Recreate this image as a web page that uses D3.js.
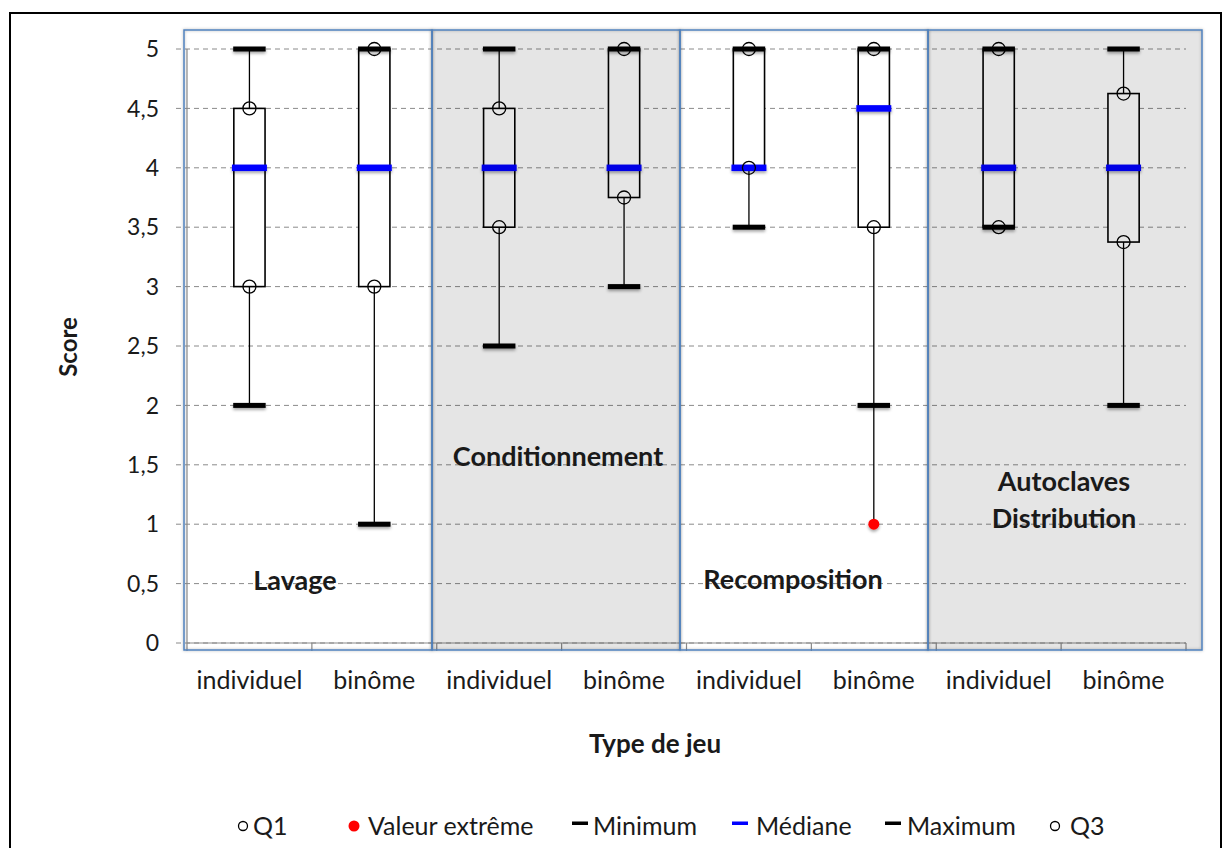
<!DOCTYPE html>
<html><head><meta charset="utf-8">
<script src="https://cdn.jsdelivr.net/npm/d3@7"></script>
<style>
html,body{margin:0;padding:0;background:#fff;}
svg{display:block;}
text{font-family:Lato,"Open Sans",sans-serif;fill:#1a1a1a;}
</style></head>
<body>
<svg id="chart" width="1227" height="848"></svg>
<script>
// ---------- data ----------
const categories = ["individuel","binôme","individuel","binôme","individuel","binôme","individuel","binôme"];
const groupNames = ["Lavage","Conditionnement","Recomposition","Autoclaves\nDistribution"];
const minValues     = [2, 1, 2.5, 3, 3.5, 2, 3.5, 2];
const q1Values      = [3, 3, 3.5, 3.75, 4, 3.5, 3.5, 3.375];
const medianValues  = [4, 4, 4, 4, 4, 4.5, 4, 4];
const q3Values      = [4.5, 5, 4.5, 5, 5, 5, 5, 4.625];
const maxValues     = [5, 5, 5, 5, 5, 5, 5, 5];
const extremeValues = [null, null, null, null, null, 1, null, null];
const yTicks = [0, 0.5, 1, 1.5, 2, 2.5, 3, 3.5, 4, 4.5, 5];
const legendItems = ["Q1","Valeur extrême","Minimum","Médiane","Maximum","Q3"];

// ---------- layout ----------
const svg = d3.select("#chart");
const x = d3.scaleBand().domain(d3.range(categories.length)).range([187, 1186]).padding(0);
const y = d3.scaleLinear().domain([0, 5]).range([643, 49]);
const fmt = v => String(v).replace(".", ",");
const bw = x.bandwidth();
const cx = i => x(i) + bw / 2;

const defs = svg.append("defs");
const sh = defs.append("filter").attr("id","shadow").attr("x","-30%").attr("y","-50%").attr("width","160%").attr("height","250%");
sh.append("feDropShadow").attr("dx",0).attr("dy",2).attr("stdDeviation",1.6).attr("flood-color","#000").attr("flood-opacity",0.35);
const psh = defs.append("filter").attr("id","pshadow").attr("x","-5%").attr("y","-5%").attr("width","110%").attr("height","110%");
psh.append("feDropShadow").attr("dx",0).attr("dy",0).attr("stdDeviation",1.5).attr("flood-color","#000").attr("flood-opacity",0.3);

// outer frame
svg.append("rect").attr("x",10).attr("y",13).attr("width",1211).attr("height",860)
  .attr("fill","none").attr("stroke","#000").attr("stroke-width",2);

// gridlines
svg.append("g").selectAll("line").data(yTicks).join("line")
  .attr("x1",176).attr("x2",1186).attr("y1",d=>y(d)).attr("y2",d=>y(d))
  .attr("stroke","#8a8a8a").attr("stroke-width",1).attr("stroke-dasharray","5,4");

// axes lines
svg.append("line").attr("x1",187).attr("x2",187).attr("y1",y(5)).attr("y2",y(0)).attr("stroke","#8a8a8a").attr("stroke-width",1.2);
svg.append("line").attr("x1",187).attr("x2",1186).attr("y1",y(0)).attr("y2",y(0)).attr("stroke","#8a8a8a").attr("stroke-width",1.2);
svg.append("g").selectAll("line").data(d3.range(categories.length+1)).join("line")
  .attr("x1",d=>187+d*bw).attr("x2",d=>187+d*bw).attr("y1",y(0)).attr("y2",y(0)+8)
  .attr("stroke","#8a8a8a").attr("stroke-width",1.2);

// y tick labels
svg.append("g").selectAll("text").data(yTicks).join("text")
  .attr("x",159).attr("y",d=>y(d)).attr("dy","0.36em").attr("text-anchor","end")
  .attr("font-size",23).text(fmt);

// x tick labels
svg.append("g").selectAll("text").data(categories).join("text")
  .attr("x",(d,i)=>cx(i)).attr("y",689).attr("text-anchor","middle")
  .attr("font-size",25).text(d=>d);

// axis titles
svg.append("text").attr("transform","translate(77,347) rotate(-90)").attr("text-anchor","middle")
  .attr("font-size",24).attr("font-weight","bold").text("Score");
svg.append("text").attr("x",655).attr("y",753).attr("text-anchor","middle")
  .attr("font-size",26).attr("font-weight","bold").text("Type de jeu");

// ---------- boxes ----------
const idx = d3.range(categories.length);
const boxW = bw*0.25, capW = bw*0.26, medW = bw*0.28;
const g = svg.append("g");
// whiskers
g.selectAll("line.up").data(idx).join("line").attr("class","up")
  .attr("x1",cx).attr("x2",cx).attr("y1",i=>y(q3Values[i])).attr("y2",i=>y(maxValues[i]))
  .attr("stroke","#000").attr("stroke-width",1.3);
g.selectAll("line.dn").data(idx).join("line").attr("class","dn")
  .attr("x1",cx).attr("x2",cx).attr("y1",i=>y(q1Values[i]))
  .attr("y2",i=>y(extremeValues[i]!=null ? Math.min(extremeValues[i],minValues[i]) : minValues[i]))
  .attr("stroke","#000").attr("stroke-width",1.3);
// boxes
g.selectAll("rect.box").data(idx).join("rect").attr("class","box")
  .attr("x",i=>cx(i)-boxW/2).attr("width",boxW)
  .attr("y",i=>y(q3Values[i])).attr("height",i=>y(q1Values[i])-y(q3Values[i]))
  .attr("fill","#fff").attr("stroke","#000").attr("stroke-width",1.6);
// caps min / max
const capH = 5;
g.selectAll("rect.min").data(idx).join("rect").attr("class","min")
  .attr("x",i=>cx(i)-capW/2).attr("width",capW).attr("y",i=>y(minValues[i])-capH/2).attr("height",capH)
  .attr("fill","#000").attr("filter","url(#shadow)");
g.selectAll("rect.max").data(idx).join("rect").attr("class","max")
  .attr("x",i=>cx(i)-capW/2).attr("width",capW).attr("y",i=>y(maxValues[i])-capH/2).attr("height",capH)
  .attr("fill","#000").attr("filter","url(#shadow)");
// median
const medH = 6.5;
g.selectAll("rect.med").data(idx).join("rect").attr("class","med")
  .attr("x",i=>cx(i)-medW/2).attr("width",medW).attr("y",i=>y(medianValues[i])-medH/2).attr("height",medH)
  .attr("fill","#0000ff").attr("filter","url(#shadow)");
// Q1 / Q3 circles
[q1Values,q3Values].forEach(arr=>{
  g.append("g").selectAll("circle").data(idx).join("circle")
    .attr("cx",cx).attr("cy",i=>y(arr[i])).attr("r",6.5)
    .attr("fill","none").attr("stroke","#000").attr("stroke-width",1.3);
});
// extreme values
g.selectAll("circle.ext").data(idx.filter(i=>extremeValues[i]!=null)).join("circle").attr("class","ext")
  .attr("cx",cx).attr("cy",i=>y(extremeValues[i])).attr("r",5.5)
  .attr("fill","#ff0000").attr("filter","url(#shadow)");

// ---------- group panels (overlay) ----------
const panelEdges = [184, 432, 680, 928, 1202];
const pg = svg.append("g");
groupNames.forEach((name,k)=>{
  const px = panelEdges[k], pw = panelEdges[k+1]-panelEdges[k];
  if (k%2) pg.append("rect").attr("x",px).attr("y",30).attr("width",pw).attr("height",620)
    .attr("fill","rgba(0,0,0,0.1)");
  pg.append("rect").attr("x",px).attr("y",30).attr("width",pw).attr("height",620)
    .attr("fill","none").attr("stroke","#4f81bd").attr("stroke-width",1.5).attr("filter","url(#pshadow)");
});
// group labels
const labelPos = [[295,590],[558,466],[793,589],[1064,491]];
groupNames.forEach((name,k)=>{
  const t = svg.append("text").attr("text-anchor","middle").attr("font-size",27).attr("font-weight","bold");
  name.split("\n").forEach((ln,j)=>{
    t.append("tspan").attr("x",labelPos[k][0]).attr("y",labelPos[k][1]+j*37).text(ln);
  });
});

// ---------- legend ----------
const ly = 826, lfs = 25;
const legX = [[243,253],[354,368],[580,593],[740,756],[893,907],[1055,1070]];
const lg = svg.append("g");
legendItems.forEach((name,k)=>{
  const [mx,tx] = legX[k];
  if (k===0 || k===5) lg.append("circle").attr("cx",mx).attr("cy",ly).attr("r",4.5).attr("fill","none").attr("stroke","#000").attr("stroke-width",1.3);
  else if (k===1) lg.append("circle").attr("cx",mx).attr("cy",ly).attr("r",5.5).attr("fill","#ff0000");
  else lg.append("rect").attr("x",mx-8).attr("width",16).attr("y",ly-4.5).attr("height",3.5)
        .attr("fill", k===3 ? "#0000ff" : "#000");
  lg.append("text").attr("x",tx).attr("y",ly).attr("dy","0.36em").attr("font-size",lfs).text(name);
});
</script>
</body></html>
